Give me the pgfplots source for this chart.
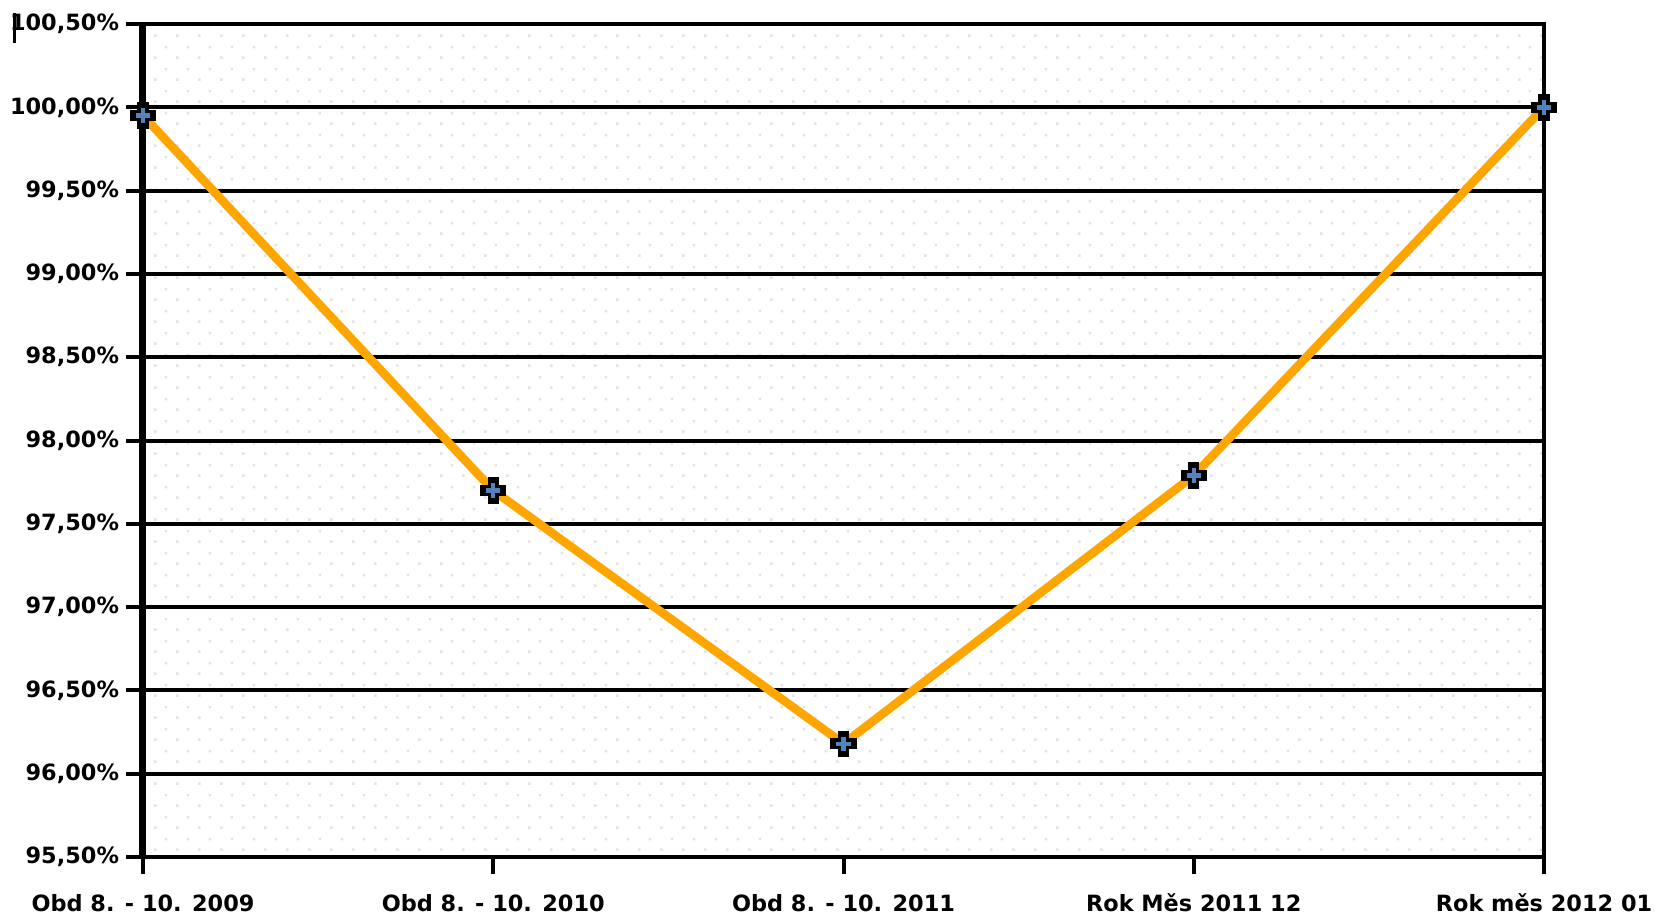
\documentclass[border=0pt]{standalone}
\usepackage{fontspec}
\setmainfont{DejaVu Sans}
\usepackage{pgfplots}
\usepackage{pgfplotstable}
\pgfplotsset{compat=1.18}
\usetikzlibrary{patterns}
\definecolor{lineorange}{RGB}{255,165,0}
\definecolor{markblue}{RGB}{84,130,189}
\pgfdeclarepatternformonly{sparsedots}{\pgfpointorigin}{\pgfqpoint{11pt}{11pt}}{\pgfqpoint{11pt}{11pt}}{%
  \pgfpathrectangle{\pgfqpoint{0pt}{0pt}}{\pgfqpoint{1.4pt}{1.4pt}}%
  \pgfpathrectangle{\pgfqpoint{5.5pt}{5.5pt}}{\pgfqpoint{1.4pt}{1.4pt}}%
  \pgfusepath{fill}}

\pgfplotstableread{
x y
0 99.95
1 97.70
2 96.18
3 97.79
4 100.00
}\datatable

\begin{document}
\begin{tikzpicture}
\begin{axis}[
  name=ax,
  scale only axis,
  width=700.5pt, height=416.5pt,
  xmin=0, xmax=4, ymin=95.5, ymax=100.5,
  xtick={0,1,2,3,4},
  xticklabels={Obd 8. - 10. 2009, Obd 8. - 10. 2010, Obd 8. - 10. 2011, Rok Měs 2011 12, Rok měs 2012 01},
  ytick={95.5,96,96.5,97,97.5,98,98.5,99,99.5,100,100.5},
  tick pos=left,
  ymajorgrids,
  grid style={black, line width=2pt},
  axis line style={black, line width=2pt},
  tick style={black, line width=2pt},
  tick align=outside,
  major tick length=8.5pt,
  ticklabel style={font=\bfseries\fontsize{11.2}{13}\selectfont, text=black},
  xticklabel style={yshift=-6.5pt},
  yticklabel={\pgfmathprintnumber[fixed,fixed zerofill,precision=2,use comma,assume math mode=true]{\tick}\%},
  clip=false,
  axis background/.style={fill=white, postaction={pattern=sparsedots, pattern color=black!11}},
]
\draw[black, line width=3.5pt] (rel axis cs:0,0) -- (rel axis cs:0,1);
\addplot[lineorange, line width=4.3pt, no markers] table[x=x,y=y] {\datatable};
\addplot[only marks, mark=+, mark size=6.6pt, mark options={black, line width=5.6pt}] table[x=x,y=y] {\datatable};
\addplot[only marks, mark=+, mark size=3.6pt, mark options={markblue, line width=2.2pt}] table[x=x,y=y] {\datatable};
\end{axis}
\draw[black, line width=1.5pt] ([shift={(-64.25pt,5.5pt)}]ax.north west) -- ([shift={(-64.25pt,-9.5pt)}]ax.north west);
\pgfresetboundingbox
\path ([shift={(-71.5pt,-29.5pt)}]ax.south west) rectangle ([shift={(55.5pt,12pt)}]ax.north east);
\end{tikzpicture}
\end{document}
